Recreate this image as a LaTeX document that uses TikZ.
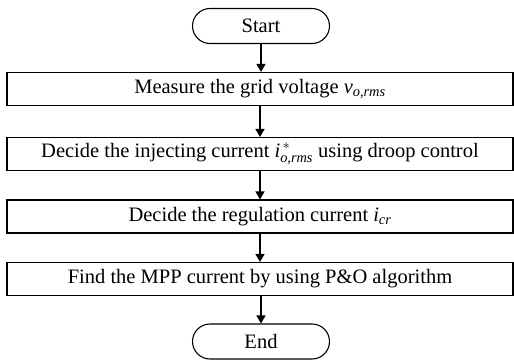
\documentclass[tikz,border=0pt]{standalone}
\usepackage{amsmath}
\usepackage{fontspec}
\setmainfont{Liberation Serif}
\usetikzlibrary{arrows.meta}
\begin{document}
\begin{tikzpicture}[x=1pt,y=1pt,
  procbox/.style={draw, line width=1.1pt, minimum width=506pt, minimum height=33pt, inner sep=0pt, font=\fontsize{20.5}{22}\selectfont},
  termbox/.style={draw, line width=1.1pt, minimum width=137pt, minimum height=35pt, rounded corners=17.5pt, inner sep=0pt, font=\fontsize{20.5}{22}\selectfont},
  flow/.style={line width=1.4pt, -{Triangle[length=8pt,width=9pt]}}]
\useasboundingbox (0,0) rectangle (514,-361);
\node[termbox] (start) at (261,-26) {Start};
\node[procbox] (b1) at (260,-89) {Measure the grid voltage \textit{v}$_{\textit{o,rms}}$};
\node[procbox] (b2) at (260,-154) {Decide the injecting current $\textit{i}^{\,*}_{\textit{o,rms}}$ using droop control};
\node[procbox] (b3) at (260,-216.5) {Decide the regulation current \textit{i}$_{\textit{cr}}$};
\node[procbox] (b4) at (260,-279) {Find the MPP current by using P\&O algorithm};
\node[termbox] (end) at (261,-341.5) {End};
\draw[flow] (start) -- (start|-b1.north);
\draw[flow] (b1) -- (b2);
\draw[flow] (b2) -- (b3);
\draw[flow] (b3) -- (b4);
\draw[flow] (b4.south-|end) -- (end);
\end{tikzpicture}
\end{document}
